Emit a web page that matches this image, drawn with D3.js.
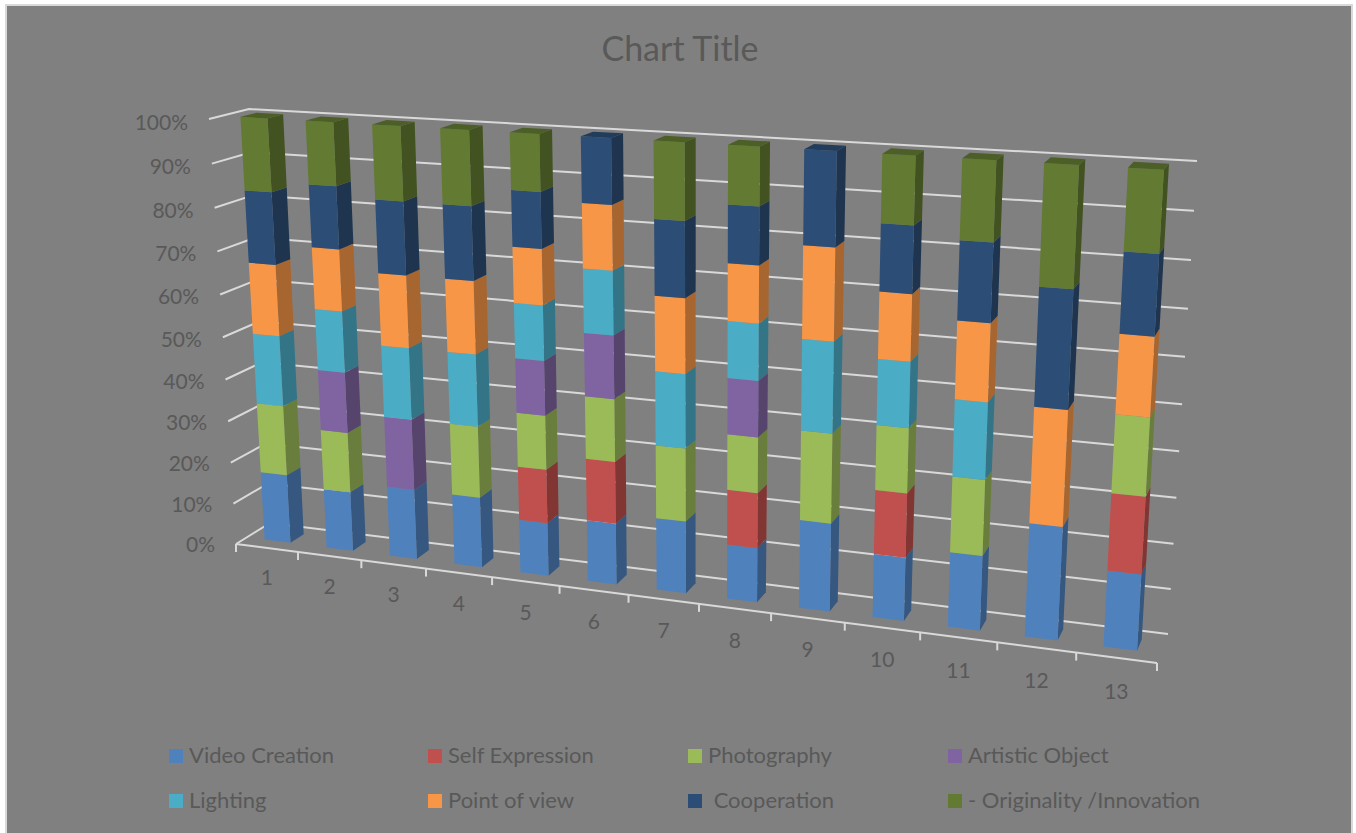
<!DOCTYPE html>
<html>
<head>
<meta charset="utf-8">
<title>Chart Title</title>
<script src="https://cdn.jsdelivr.net/npm/d3@7"></script>
<style>
    body { margin: 0; background: #fff; }
    svg { display: block; }
    text { font-family: Lato, "Open Sans", sans-serif; fill: #595959; }
</style>
</head>
<body>
<svg id="chart"></svg>
<script>
const categories = ['1', '2', '3', '4', '5', '6', '7', '8', '9', '10', '11', '12', '13'];
const seriesNames = ['Video Creation', 'Self Expression', 'Photography', 'Artistic Object', 'Lighting', 'Point of view', ' Cooperation', '- Originality /Innovation'];
const seriesColors = ['#4f81bd', '#c0504d', '#9bbb59', '#8064a2', '#4bacc6', '#f79646', '#2c4d75', '#627a31'];

const videoCreation  = [1, 1, 1, 1, 1, 1, 1, 1, 1, 1, 1, 1, 1];
const selfExpression = [0, 0, 0, 0, 1, 1, 0, 1, 0, 1, 0, 0, 1];
const photography    = [1, 1, 0, 1, 1, 1, 1, 1, 1, 1, 1, 0, 1];
const artisticObject = [0, 1, 1, 0, 1, 1, 0, 1, 0, 0, 0, 0, 0];
const lighting       = [1, 1, 1, 1, 1, 1, 1, 1, 1, 1, 1, 0, 0];
const pointOfView    = [1, 1, 1, 1, 1, 1, 1, 1, 1, 1, 1, 1, 1];
const cooperation    = [1, 1, 1, 1, 1, 1, 1, 1, 1, 1, 1, 1, 1];
const originality    = [1, 1, 1, 1, 1, 0, 1, 1, 0, 1, 1, 1, 1];

const seriesValues = [videoCreation, selfExpression, photography, artisticObject, lighting, pointOfView, cooperation, originality];
const yTicks = [0, 0.1, 0.2, 0.3, 0.4, 0.5, 0.6, 0.7, 0.8, 0.9, 1];

// Homography from the unit square to a quad [bottom-left, bottom-right, top-right, top-left]
function quadProjection(q) {
    const [[x0, y0], [x1, y1], [x2, y2], [x3, y3]] = q;
    const sx = x0 - x1 + x2 - x3, sy = y0 - y1 + y2 - y3;
    const dx1 = x1 - x2, dx2 = x3 - x2, dy1 = y1 - y2, dy2 = y3 - y2;
    const det = dx1 * dy2 - dx2 * dy1;
    const g = (sx * dy2 - dx2 * sy) / det;
    const h = (dx1 * sy - sx * dy1) / det;
    const a = x1 - x0 + g * x1, b = x3 - x0 + h * x3;
    const d = y1 - y0 + g * y1, e = y3 - y0 + h * y3;
    return (u, v) => {
        const w = g * u + h * v + 1;
        return [(a * u + b * v + x0) / w, (d * u + e * v + y0) / w];
    };
}

class Stacked3D {

    constructor(_config) {
        this.config = {
            parentElement: _config.parentElement,
            containerWidth: _config.containerWidth || 1356,
            containerHeight: _config.containerHeight || 833,
            frontPlane: [[236, 544], [1157, 663], [1185, 176], [209, 119]],
            wallPlane: [[270, 523], [1168, 634], [1197, 161], [249, 109]],
            barDepth: [0.32, 0.72]
        };
        this.initVis();
    }

    initVis() {
        let vis = this;

        vis.svg = d3.select(vis.config.parentElement)
            .attr('width', vis.config.containerWidth)
            .attr('height', vis.config.containerHeight);

        // x and y work in plane units, the projection turns them into pixels
        vis.xScale = d3.scaleBand().domain(categories).range([0, 1]).paddingInner(0.58).paddingOuter(0.29);
        vis.xCell = d3.scaleBand().domain(categories).range([0, 1]);
        vis.yScale = d3.scaleLinear().domain([0, 1]).range([0, 1]);

        vis.line = d3.line();

        vis.svg.append('rect')
            .attr('x', 6).attr('y', 5)
            .attr('width', 1346).attr('height', 830)
            .attr('fill', '#808080')
            .attr('stroke', '#d9d9d9')
            .attr('stroke-width', 2);

        vis.svg.append('text')
            .attr('x', 680).attr('y', 61)
            .attr('text-anchor', 'middle')
            .attr('font-size', 34)
            .text('Chart Title');

        vis.grid = vis.svg.append('g');
        vis.axis = vis.svg.append('g');
        vis.bars = vis.svg.append('g');
        vis.legend = vis.svg.append('g');

        vis.updateVis();
    }

    // u along the categories, v up the value axis, depth 0 front to 1 back wall
    project(u, v, depth) {
        let vis = this;
        const front = quadProjection(vis.config.frontPlane)(u, v);
        const wall = quadProjection(vis.config.wallPlane)(u, v);
        return [front[0] + (wall[0] - front[0]) * depth, front[1] + (wall[1] - front[1]) * depth];
    }

    updateVis() {
        let vis = this;

        const rows = categories.map((c, i) => {
            const row = { category: c };
            seriesNames.forEach((s, j) => { row[s] = seriesValues[j][i]; });
            return row;
        });

        vis.stacked = d3.stack()
            .keys(seriesNames)
            .offset(d3.stackOffsetExpand)(rows);

        vis.renderVis();
    }

    renderVis() {
        let vis = this;
        const [d0, d1] = vis.config.barDepth;

        // Gridlines: side wall then back wall
        const gridColor = '#d9d9d9';
        vis.grid.selectAll('.grid-line')
            .data(yTicks)
            .join('path')
            .attr('class', 'grid-line')
            .attr('fill', 'none')
            .attr('stroke', gridColor)
            .attr('stroke-width', 2)
            .attr('d', d => vis.line([
                vis.project(0, vis.yScale(d), 0),
                vis.project(0, vis.yScale(d), 1),
                vis.project(1, vis.yScale(d), 1)
            ]));

        const labelLift = d3.scaleLinear().domain([0, 1]).range([8, 11]);
        vis.axis.selectAll('.y-label')
            .data(yTicks)
            .join('text')
            .attr('class', 'y-label')
            .attr('text-anchor', 'end')
            .attr('font-size', 21)
            .attr('x', d => vis.project(0, vis.yScale(d), 0)[0] - 21)
            .attr('y', d => vis.project(0, vis.yScale(d), 0)[1] + labelLift(d))
            .text(d3.format('.0%'));

        // Category axis along the front of the floor
        vis.axis.append('path')
            .attr('fill', 'none')
            .attr('stroke', gridColor)
            .attr('stroke-width', 2)
            .attr('d', vis.line([vis.project(0, 0, 0), vis.project(1, 0, 0)]));

        const tickPos = categories.map(c => vis.xCell(c)).concat([1]);
        vis.axis.selectAll('.x-tick')
            .data(tickPos)
            .join('path')
            .attr('class', 'x-tick')
            .attr('stroke', gridColor)
            .attr('stroke-width', 2)
            .attr('d', d => {
                const p = vis.project(d, 0, 0);
                return vis.line([p, [p[0], p[1] + 8]]);
            });

        const labelDrop = d3.scaleLinear().domain([0, 1]).range([30, 34]);
        vis.axis.selectAll('.x-label')
            .data(categories)
            .join('text')
            .attr('class', 'x-label')
            .attr('text-anchor', 'middle')
            .attr('font-size', 21)
            .attr('x', d => vis.project(vis.xCell(d) + vis.xCell.bandwidth() / 2, 0, 0)[0])
            .attr('y', d => {
                const u = vis.xCell(d) + vis.xCell.bandwidth() / 2;
                return vis.project(u, 0, 0)[1] + labelDrop(u) + 7;
            })
            .text(d => d);

        // One set of faces per stacked segment
        const segments = [];
        vis.stacked.forEach((layer, s) => {
            layer.forEach((seg, i) => {
                if (seg[1] > seg[0]) segments.push({ s, i, y0: seg[0], y1: seg[1], color: seriesColors[s] });
            });
        });

        const poly = pts => vis.line(pts) + 'Z';
        const faces = vis.bars.selectAll('.segment')
            .data(segments)
            .join('g')
            .attr('class', 'segment');

        faces.append('path')
            .attr('fill', d => d3.rgb(d.color).darker(1.1))
            .attr('d', d => {
                const ur = vis.xScale(categories[d.i]) + vis.xScale.bandwidth();
                return poly([
                    vis.project(ur, vis.yScale(d.y0), d0), vis.project(ur, vis.yScale(d.y0), d1),
                    vis.project(ur, vis.yScale(d.y1), d1), vis.project(ur, vis.yScale(d.y1), d0)
                ]);
            });

        faces.append('path')
            .attr('fill', d => d.color)
            .attr('d', d => {
                const ul = vis.xScale(categories[d.i]);
                const ur = ul + vis.xScale.bandwidth();
                return poly([
                    vis.project(ul, vis.yScale(d.y0), d0), vis.project(ur, vis.yScale(d.y0), d0),
                    vis.project(ur, vis.yScale(d.y1), d0), vis.project(ul, vis.yScale(d.y1), d0)
                ]);
            });

        // Cap on the top segment only
        faces.filter(d => d.y1 > 0.999).append('path')
            .attr('fill', d => d3.rgb(d.color).darker(0.7))
            .attr('d', d => {
                const ul = vis.xScale(categories[d.i]);
                const ur = ul + vis.xScale.bandwidth();
                return poly([
                    vis.project(ul, 1, d0), vis.project(ur, 1, d0),
                    vis.project(ur, 1, d1), vis.project(ul, 1, d1)
                ]);
            });

        // Legend, two rows of four
        const legendX = d3.scaleOrdinal().domain([0, 1, 2, 3]).range([169, 428, 688, 948]);
        const legendY = d3.scaleOrdinal().domain([0, 1]).range([756, 801]);
        const item = vis.legend.selectAll('.legend-item')
            .data(seriesNames)
            .join('g')
            .attr('class', 'legend-item')
            .attr('transform', (d, i) => `translate(${legendX(i % 4)},${legendY(Math.floor(i / 4))})`);

        item.append('rect')
            .attr('y', -7)
            .attr('width', 14)
            .attr('height', 14)
            .attr('fill', (d, i) => seriesColors[i]);

        item.append('text')
            .attr('x', 20)
            .attr('y', 7)
            .attr('font-size', 22)
            .attr('xml:space', 'preserve')
            .text(d => d);
    }
}

new Stacked3D({ parentElement: '#chart' });
</script>
</body>
</html>
